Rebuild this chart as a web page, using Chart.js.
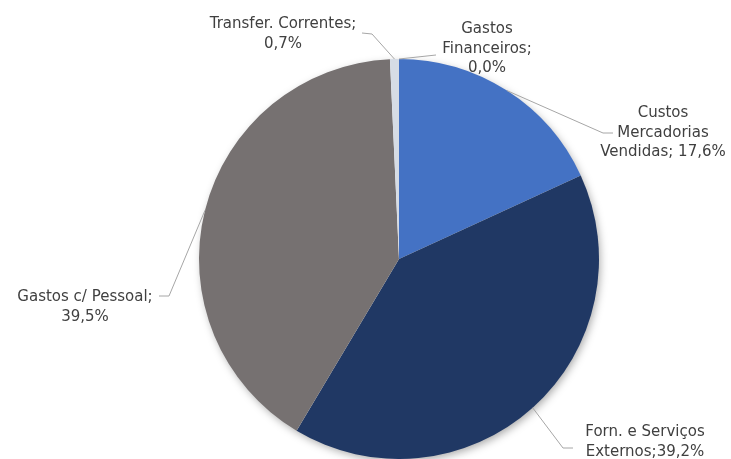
<!DOCTYPE html>
<html>
<head>
<meta charset="utf-8">
<script src="https://cdn.jsdelivr.net/npm/chart.js@4/dist/chart.umd.min.js"></script>
<style>
	body { margin: 0; background: #ffffff; }
	#wrap { width: 731px; height: 459px; }
</style>
</head>
<body>
<div id="wrap"><canvas id="despesasPie" width="731" height="459"></canvas></div>
<script>

// categorias e valores (%)
var categorias = ["Gastos Financeiros", "Custos Mercadorias Vendidas", "Forn. e Serviços Externos", "Gastos c/ Pessoal", "Transfer. Correntes"];
var valores = [0.0, 17.6, 39.2, 39.5, 0.7];
var cores = ["#4472C4", "#4472C4", "#203864", "#767171", "#D6DCE5"];

// texto dos rotulos (linhas)
var rotulos = [
	["Gastos", "Financeiros;", "0,0%"],
	["Custos", "Mercadorias", "Vendidas; 17,6%"],
	["Forn. e Serviços", "Externos;39,2%"],
	["Gastos c/ Pessoal;", "39,5%"],
	["Transfer. Correntes;", "0,7%"]
];

// posicao dos rotulos relativa ao centro, em raios
var rotuloPos = [
	{dx: 0.44, dy: -1.05, elbow: {dx: 0.185, dy: -1.02}},
	{dx: 1.32, dy: -0.63, elbow: {dx: 1.02, dy: -0.63}},
	{dx: 1.23, dy: 0.915, elbow: {dx: 0.82, dy: 0.945}},
	{dx: -1.57, dy: 0.24, elbow: {dx: -1.15, dy: 0.185}},
	{dx: -0.58, dy: -1.125, elbow: {dx: -0.135, dy: -1.125}}
];

// sombra suave atras da pizza
var sombraPlugin = {
	id: 'sombraPlugin',
	beforeDatasetsDraw: function(chart) {
		var arc = chart.getDatasetMeta(0).data[1];
		if (!arc) return;
		var ctx = chart.ctx;
		ctx.save();
		ctx.shadowColor = 'rgba(0,0,0,0.35)';
		ctx.shadowBlur = 8;
		ctx.shadowOffsetX = 2;
		ctx.shadowOffsetY = 3;
		ctx.fillStyle = '#ffffff';
		ctx.beginPath();
		ctx.arc(arc.x, arc.y, arc.outerRadius - 1, 0, Math.PI * 2);
		ctx.fill();
		ctx.restore();
	}
};

var rotulosPlugin = {
	id: 'rotulosPlugin',
	afterDatasetsDraw: function(chart) {
		var ctx = chart.ctx;
		var meta = chart.getDatasetMeta(0);
		ctx.save();
		ctx.font = '15px "DejaVu Sans", sans-serif';
		ctx.textAlign = 'center';
		ctx.textBaseline = 'middle';
		for (var i = 0; i < meta.data.length; i++) {
			var arc = meta.data[i];
			var r = arc.outerRadius;
			var mid = (arc.startAngle + arc.endAngle) / 2;
			var px = arc.x + Math.cos(mid) * r;
			var py = arc.y + Math.sin(mid) * r;
			var pos = rotuloPos[i];
			var ex = arc.x + pos.elbow.dx * r;
			var ey = arc.y + pos.elbow.dy * r;
			var lx = arc.x + pos.dx * r;
			var ly = arc.y + pos.dy * r;
			var linhas = rotulos[i];

			// linha de chamada
			ctx.strokeStyle = '#A6A6A6';
			ctx.lineWidth = 1;
			ctx.beginPath();
			ctx.moveTo(px, py);
			ctx.lineTo(ex, ey);
			if (i == 3) {
				ctx.lineTo(ex - 10, ey);
			} else if (i == 4) {
				ctx.lineTo(ex - 10, ey - 1);
			} else if (i == 1 || i == 2) {
				ctx.lineTo(ex + 10, ey);
			}
			ctx.stroke();

			ctx.fillStyle = '#404040';
			var alt = 19.5;
			var y0 = ly - (linhas.length - 1) * alt / 2;
			for (var k = 0; k < linhas.length; k++) {
				ctx.fillText(linhas[k], lx, y0 + k * alt);
			}
		}
		ctx.restore();
	}
};

var ctx = document.getElementById("despesasPie");
var despesasChart = new Chart(ctx, {
	type: 'pie',
	data: {
		labels: categorias,
		datasets: [{
			data: valores,
			backgroundColor: cores,
			borderWidth: 0
		}]
	},
	options: {
		responsive: false,
		animation: false,
		layout: {
			padding: {left: 199, right: 132, top: 59, bottom: 0}
		},
		plugins: {
			legend: { display: false },
			tooltip: { enabled: false },
			title: { display: false }
		}
	},
	plugins: [sombraPlugin, rotulosPlugin]
});
</script>
</body>
</html>
